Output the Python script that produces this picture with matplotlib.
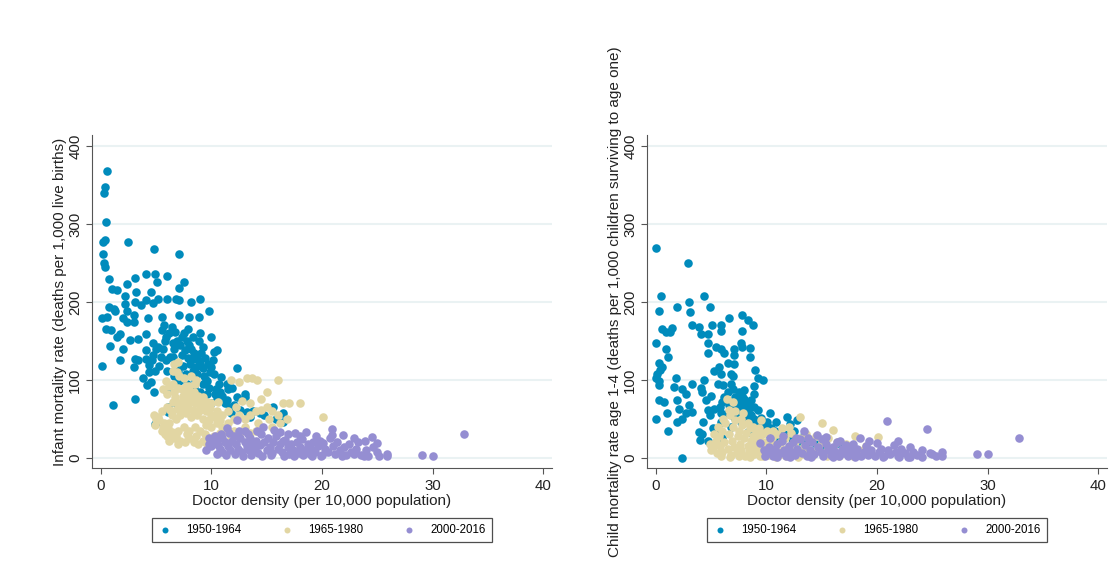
import matplotlib.pyplot as plt

plt.rcParams['font.family'] = ['Liberation Sans', 'DejaVu Sans']

periods = ["1950-1964", "1965-1980", "2000-2016"]
colors = ["#008bbc", "#e2d6a3", "#958ed2"]

x_ticks = [0, 10, 20, 30, 40]
y_ticks = [0, 100, 200, 300, 400]

# infant mortality vs doctor density, (doctors, rate)
imr_1950 = [
    (0.6, 368), (0.4, 348), (0.3, 340), (0.5, 303), (0.2, 277), (0.4, 280), (0.2, 261),
    (0.3, 250), (0.4, 245), (0.75, 229), (0.1, 180), (0.7, 194), (0.6, 181), (1.2, 191),
    (0.1, 118), (1.1, 68), (0.5, 165), (0.9, 164), (0.8, 144), (2.5, 277), (4.8, 268),
    (7.1, 261), (2.4, 223), (3.1, 231), (4.1, 236), (4.9, 236), (5.1, 226), (6.0, 233),
    (7.5, 226), (1.0, 217), (1.5, 216), (2.2, 208), (3.2, 213), (4.5, 213), (7.1, 218),
    (2.2, 198), (3.1, 200), (3.6, 196), (4.1, 202), (4.7, 199), (5.2, 204), (6.0, 204),
    (6.8, 204), (7.1, 202), (8.2, 200), (9.0, 204), (1.3, 189), (2.4, 189), (3.0, 183),
    (4.3, 179), (5.5, 181), (7.1, 183), (8.0, 181), (8.9, 181), (9.8, 188), (2.0, 179),
    (2.4, 174), (1.7, 159), (1.5, 155), (3.0, 174), (5.7, 171), (6.4, 168), (6.7, 162),
    (5.5, 164), (7.9, 165), (9.0, 160), (10.0, 155), (1.7, 125), (2.6, 151), (3.4, 153),
    (2.0, 140), (3.0, 117), (3.4, 126), (3.1, 127), (4.1, 159), (4.7, 147), (4.1, 138),
    (5.2, 142), (5.9, 155), (6.5, 147), (7.3, 155), (8.3, 155), (9.2, 142), (10.2, 136),
    (10.5, 138), (4.1, 127), (4.7, 132), (4.4, 119), (4.9, 112), (3.8, 102), (4.2, 93),
    (4.5, 97), (3.1, 75), (5.9, 125), (6.5, 129), (7.3, 132), (8.2, 125), (8.6, 117),
    (9.2, 115), (10.0, 117), (10.2, 108), (10.9, 104), (12.3, 115), (5.9, 87), (4.8, 85),
    (7.7, 108), (8.5, 100), (9.2, 95), (9.5, 100), (11.4, 95), (11.9, 89), (13.0, 82),
    (13.0, 78), (6.1, 65), (6.1, 59), (4.9, 44), (6.8, 70), (7.9, 78), (8.6, 72),
    (10.3, 82), (11.4, 74), (11.7, 65), (12.3, 78), (13.5, 53), (14.4, 57), (16.5, 57),
    (16.5, 46), (15.6, 65), (13.2, 59), (11.8, 57), (10.0, 70), (9.5, 61),
    (7.5, 160), (7.8, 150), (8.0, 145), (8.2, 140), (8.4, 135), (8.6, 130), (8.8, 125),
    (9.0, 120), (7.6, 138), (7.9, 128), (8.1, 120), (8.3, 112), (8.7, 108), (9.3, 105),
    (9.6, 98), (9.8, 90), (10.4, 88), (10.8, 85), (11.0, 80), (7.2, 145), (6.9, 150),
    (6.6, 140), (6.3, 130), (6.8, 120), (7.0, 112), (7.4, 118), (8.9, 150), (9.1, 135),
    (9.4, 128), (9.7, 120), (10.1, 125), (6.2, 160), (5.8, 150), (5.6, 140), (5.4, 130),
    (5.0, 140), (4.6, 125), (4.4, 110), (5.3, 118), (6.0, 112), (6.6, 105), (7.1, 98),
    (7.8, 95), (8.4, 90), (9.0, 85), (9.6, 82), (10.5, 75), (11.2, 70), (12.0, 68),
    (12.6, 62), (13.8, 60), (14.8, 55), (15.8, 50), (10.7, 95), (11.5, 88), (9.9, 110),
]

imr_1965 = [
    (4.8, 55), (4.9, 42), (5.0, 50), (5.3, 48), (5.5, 35), (5.6, 40), (5.8, 30), (6.0, 28),
    (6.2, 45), (6.4, 55), (6.6, 120), (7.0, 123), (6.5, 112), (6.9, 110), (7.1, 105),
    (5.9, 98), (6.2, 92), (6.5, 95), (7.5, 102), (8.2, 105), (8.6, 100), (5.6, 88),
    (6.0, 82), (6.6, 85), (7.0, 90), (7.4, 80), (7.8, 85), (8.0, 92), (8.4, 85), (8.8, 80),
    (9.2, 78), (9.6, 72), (10.0, 70), (10.6, 72), (11.8, 100), (12.5, 97), (13.2, 103),
    (13.7, 103), (14.1, 100), (16.0, 100), (15.0, 85), (14.5, 75), (13.5, 70), (12.8, 73),
    (12.2, 65), (11.5, 60), (11.0, 55), (10.5, 60), (10.0, 55), (9.5, 60), (9.0, 65),
    (8.5, 70), (8.0, 72), (7.5, 68), (7.0, 70), (6.5, 72), (6.0, 65), (5.5, 60), (5.2, 52),
    (5.7, 45), (6.1, 38), (6.4, 33), (6.8, 28), (7.2, 22), (7.6, 20), (8.0, 25), (8.4, 20),
    (8.8, 18), (9.2, 22), (9.6, 18), (10.0, 20), (7.0, 35), (7.5, 40), (8.0, 35), (8.5, 40),
    (9.0, 35), (9.5, 42), (10.0, 40), (10.5, 45), (11.0, 40), (11.5, 45), (12.0, 50),
    (12.5, 55), (13.0, 50), (13.5, 55), (14.0, 60), (14.5, 62), (15.0, 65), (15.5, 60),
    (16.0, 55), (16.5, 70), (17.0, 70), (18.0, 70), (20.1, 53), (15.2, 50), (14.2, 45),
    (13.0, 40), (12.0, 35), (11.0, 30), (6.8, 50), (7.2, 55), (7.7, 58), (8.2, 52),
    (8.7, 55), (9.2, 50), (9.8, 48), (10.3, 52), (10.8, 48), (6.3, 62), (6.9, 63),
    (7.3, 62), (7.9, 64), (8.3, 62), (8.9, 60), (9.4, 66), (9.9, 64), (7.4, 75), (8.1, 78),
    (8.6, 76), (9.1, 72), (6.7, 78), (7.3, 88), (7.7, 92), (8.5, 95), (6.2, 22), (6.6, 25),
    (7.0, 18), (7.8, 30), (8.6, 28), (9.4, 30), (10.2, 28), (10.8, 32), (11.8, 25),
    (12.5, 28), (13.5, 32), (14.0, 35), (15.5, 40), (16.2, 45), (16.8, 50),
]

imr_2000 = [
    (9.5, 10), (9.8, 18), (10.0, 15), (10.2, 20), (10.4, 22), (10.6, 17), (10.8, 12),
    (11.0, 8), (11.0, 25), (11.2, 20), (11.4, 38), (11.5, 15), (11.7, 10), (11.9, 22),
    (12.0, 28), (12.2, 18), (12.3, 49), (12.4, 12), (12.6, 25), (12.8, 8), (13.0, 34),
    (13.0, 20), (13.2, 15), (13.4, 10), (13.5, 26), (13.7, 18), (13.9, 12), (14.0, 22),
    (14.2, 6), (14.4, 16), (14.5, 30), (14.7, 40), (14.8, 20), (15.0, 10), (15.1, 25),
    (15.3, 14), (15.5, 6), (15.6, 20), (15.8, 28), (16.0, 12), (16.2, 33), (16.2, 18),
    (16.4, 8), (16.5, 22), (16.7, 23), (16.9, 14), (17.0, 5), (17.2, 18), (17.4, 10),
    (17.6, 32), (17.7, 20), (17.9, 6), (18.0, 14), (18.2, 24), (18.4, 10), (18.6, 33),
    (18.7, 18), (18.9, 5), (19.0, 12), (19.2, 20), (19.4, 8), (19.6, 15), (19.8, 22),
    (20.0, 4), (20.1, 19), (20.3, 12), (20.5, 8), (20.7, 25), (20.9, 37.6), (20.9, 29),
    (21.0, 15), (21.2, 5), (21.4, 20), (21.6, 10), (21.9, 29), (22.0, 14), (22.2, 4),
    (22.4, 18), (22.6, 8), (22.9, 26), (22.9, 5.5), (23.1, 12), (23.3, 20), (23.5, 4),
    (23.9, 21), (24.0, 10), (24.2, 3), (24.5, 27), (24.6, 14), (25.0, 19), (25.0, 8),
    (25.2, 3), (25.9, 5.5), (25.9, 2), (29.0, 3.4), (30.0, 2.6), (32.8, 30),
    (10.5, 5), (11.3, 4), (12.1, 5), (12.9, 3), (13.6, 4), (14.6, 3), (15.4, 4), (16.6, 3),
    (17.5, 3), (18.3, 4), (19.1, 3), (19.9, 3), (21.8, 3), (23.8, 3), (10.9, 30),
    (11.6, 32), (12.5, 35), (13.3, 30), (14.1, 35), (15.7, 36), (16.9, 30), (18.0, 28),
    (19.5, 28), (9.8, 25), (10.3, 28),
]

# child mortality (age 1-4) vs doctor density
cmr_1950 = [
    (0.06, 269), (2.9, 250), (0.5, 208), (0.3, 189), (1.9, 194), (3.0, 200), (3.1, 187),
    (4.4, 208), (4.9, 193), (0.06, 147), (0.6, 165), (0.9, 161), (1.3, 162), (1.5, 166),
    (1.1, 130), (0.9, 140), (0.3, 122), (0.6, 117), (0.4, 113), (0.1, 108), (0.0, 102),
    (0.3, 98), (0.3, 93), (1.8, 103), (0.3, 74), (0.7, 72), (1.0, 58), (1.1, 35), (0.0, 50),
    (1.6, 91), (2.4, 88), (1.9, 74), (2.7, 82), (2.1, 63), (2.7, 57), (2.4, 50), (1.9, 46),
    (3.0, 68), (3.3, 59), (3.3, 95), (2.4, 0), (3.3, 170), (3.9, 168), (4.1, 159),
    (4.7, 159), (5.1, 170), (5.9, 170), (5.9, 163), (6.6, 180), (4.7, 147), (4.7, 135),
    (5.4, 142), (5.9, 140), (6.2, 134), (7.1, 140), (7.1, 132), (7.8, 183), (8.3, 177),
    (8.8, 170), (7.8, 163), (7.7, 147), (7.8, 142), (8.5, 141), (8.5, 129), (4.4, 100),
    (4.1, 89), (4.5, 74), (4.7, 61), (4.3, 46), (3.9, 33), (4.2, 31), (4.0, 23), (4.7, 21),
    (5.3, 112), (5.7, 117), (5.9, 108), (5.6, 95), (6.1, 93), (6.5, 122), (7.1, 121),
    (6.8, 108), (7.0, 105), (9.0, 113), (9.2, 103), (9.7, 100), (8.9, 92), (8.9, 82),
    (8.6, 74), (8.0, 87), (7.8, 78), (7.4, 70), (8.0, 65), (8.3, 59), (8.9, 65), (5.3, 63),
    (5.9, 57), (6.5, 57), (7.3, 61), (9.2, 61), (9.5, 51), (10.3, 57), (10.1, 46),
    (10.9, 46), (11.9, 53), (12.1, 44), (12.8, 48), (12.5, 35), (13.4, 29), (16.5, 19),
    (5.9, 46), (6.8, 40), (7.7, 46), (8.3, 33), (9.2, 38),
    (7.5, 85), (7.8, 80), (8.0, 75), (8.2, 70), (8.5, 66), (7.6, 72), (7.9, 68), (8.3, 62),
    (8.6, 55), (8.9, 50), (9.3, 45), (9.6, 42), (10.0, 40), (10.4, 38), (10.8, 35),
    (11.2, 33), (11.6, 30), (12.0, 28), (7.2, 78), (7.0, 88), (6.8, 95), (6.5, 85),
    (6.2, 78), (6.0, 72), (5.8, 65), (7.3, 65), (7.6, 58), (8.0, 55), (8.4, 48), (8.8, 40),
    (6.6, 68), (6.9, 60), (7.1, 52), (9.2, 30), (10.2, 30), (11.0, 26), (12.3, 24),
    (13.0, 22), (13.8, 20), (14.5, 18), (15.2, 16), (5.5, 30), (6.0, 25), (5.2, 38),
    (4.9, 55), (5.0, 80), (4.2, 85),
]

cmr_1965 = [
    (4.9, 18), (5.0, 10), (5.2, 14), (5.4, 22), (5.5, 6), (5.7, 28), (5.8, 15), (6.0, 35),
    (6.0, 8), (6.2, 20), (6.3, 45), (6.4, 75), (6.5, 12), (6.6, 30), (6.7, 55), (6.8, 4),
    (6.9, 22), (7.0, 72), (7.0, 40), (7.1, 14), (7.2, 48), (7.3, 6), (7.4, 28), (7.5, 35),
    (7.6, 18), (7.7, 10), (7.8, 42), (7.9, 57), (8.0, 25), (8.1, 3), (8.2, 32), (8.3, 15),
    (8.4, 8), (8.5, 38), (8.6, 22), (8.7, 12), (8.8, 28), (8.9, 5), (9.0, 18), (9.1, 35),
    (9.2, 10), (9.3, 25), (9.4, 3), (9.5, 48), (9.5, 15), (9.6, 30), (9.8, 8), (9.9, 20),
    (10.0, 12), (10.1, 35), (10.2, 4), (10.4, 18), (10.5, 26), (10.6, 8), (10.8, 14),
    (11.0, 30), (11.1, 4), (11.3, 20), (11.5, 10), (11.7, 25), (11.9, 6), (12.0, 15),
    (12.2, 32), (12.4, 8), (12.6, 20), (12.8, 12), (13.0, 53), (13.0, 25), (13.2, 5),
    (13.4, 15), (13.6, 30), (13.8, 10), (14.0, 22), (14.3, 6), (14.5, 28), (14.7, 14),
    (15.0, 45), (15.0, 20), (15.3, 8), (15.6, 25), (16.0, 36), (16.0, 12), (16.4, 20),
    (16.8, 8), (17.2, 18), (17.6, 12), (18.0, 28), (18.4, 10), (19.0, 15), (20.1, 27),
    (5.3, 30), (5.6, 40), (6.1, 50), (6.6, 62), (7.2, 60), (7.7, 50), (8.3, 45), (8.8, 40),
    (9.3, 38), (9.8, 32), (10.6, 35), (11.4, 38), (12.0, 40), (5.9, 2), (6.7, 1), (7.5, 2),
    (8.5, 1), (9.7, 2), (10.9, 1), (11.8, 2), (12.9, 1), (14.1, 2), (15.5, 2), (16.6, 2),
    (17.8, 3),
]

cmr_2000 = [
    (9.4, 19), (9.8, 10), (10.0, 5), (10.2, 14), (10.4, 8), (10.6, 2), (10.8, 12),
    (11.0, 18), (11.2, 6), (11.4, 22), (11.6, 10), (11.8, 3), (12.0, 15), (12.2, 8),
    (12.4, 20), (12.6, 4), (12.8, 12), (13.0, 24), (13.2, 6), (13.4, 35), (13.5, 16),
    (13.7, 2), (13.9, 10), (14.1, 20), (14.3, 5), (14.6, 29), (14.7, 14), (14.9, 8),
    (15.1, 2), (15.4, 27), (15.4, 18), (15.6, 10), (15.8, 4), (16.0, 14), (16.2, 8),
    (16.4, 20), (16.6, 2), (16.8, 12), (17.0, 6), (17.2, 16), (17.4, 3), (17.6, 10),
    (17.8, 18), (18.0, 5), (18.2, 12), (18.5, 26), (18.6, 2), (18.8, 8), (19.0, 15),
    (19.2, 4), (19.5, 10), (19.8, 2), (20.0, 19), (20.2, 8), (20.4, 12), (20.6, 3),
    (20.9, 47), (21.0, 10), (21.2, 5), (21.5, 16), (21.7, 8), (21.9, 21), (21.9, 3),
    (22.2, 12), (22.5, 6), (22.8, 1), (23.0, 14), (23.0, 1), (23.3, 8), (23.6, 4),
    (24.1, 10), (24.1, 1), (24.5, 37), (24.8, 6), (25.0, 5.5), (25.3, 2), (25.9, 8),
    (25.9, 3), (29.0, 5.5), (30.0, 5.5), (32.8, 25),
    (10.3, 25), (11.5, 28), (12.7, 26), (13.8, 25), (15.0, 24), (16.7, 22), (19.3, 22),
    (9.9, 3), (11.0, 1), (12.1, 1), (14.0, 1), (16.0, 1), (18.0, 1), (20.5, 1), (22.0, 1),
]

panels = [
    ([imr_1950, imr_1965, imr_2000],
     "Infant mortality rate (deaths per 1,000 live births)"),
    ([cmr_1950, cmr_1965, cmr_2000],
     "Child mortality rate age 1-4 (deaths per 1,000 children surviving to age one)"),
]

fig = plt.figure(figsize=(11.12, 5.65), dpi=100)
axes = [fig.add_axes([0.0827, 0.1717, 0.4137, 0.589]),
        fig.add_axes([0.5818, 0.1717, 0.4137, 0.589])]

for ax, (series, ylabel) in zip(axes, panels):
    for pts, color, label in zip(series, colors, periods):
        xs = [p[0] for p in pts]
        ys = [p[1] for p in pts]
        ax.scatter(xs, ys, s=38, color=color, label=label, linewidths=0, zorder=3)

    ax.set_xlim(-0.8, 40.8)
    ax.set_ylim(-13, 414)
    ax.set_xticks(x_ticks)
    ax.set_yticks(y_ticks)
    ax.yaxis.grid(True, color="#eaf2f3", linewidth=1.5)
    ax.set_axisbelow(True)
    for side in ["top", "right"]:
        ax.spines[side].set_visible(False)
    ax.spines["left"].set_color("#555555")
    ax.spines["bottom"].set_color("#555555")
    ax.tick_params(axis="both", length=4.5, color="#555555", labelsize=10.8,
                   labelcolor="#222222")
    ax.tick_params(axis="y", pad=2.5)
    for lab in ax.get_yticklabels():
        lab.set_rotation(90)
        lab.set_va("center")
    ax.set_xlabel("Doctor density (per 10,000 population)", fontsize=11, labelpad=1,
                  color="#222222")
    ax.set_ylabel(ylabel, fontsize=11, labelpad=1, color="#222222")

    leg = ax.legend(loc="center", bbox_to_anchor=(0.5, -0.186), ncol=3, fontsize=8.3,
                    frameon=True, fancybox=False, edgecolor="#222222", markerscale=0.7,
                    handletextpad=1.2, columnspacing=3.4, borderpad=0.55, handlelength=1.2)
    leg.get_frame().set_linewidth(0.9)

fig.savefig("out.png", dpi=100)
